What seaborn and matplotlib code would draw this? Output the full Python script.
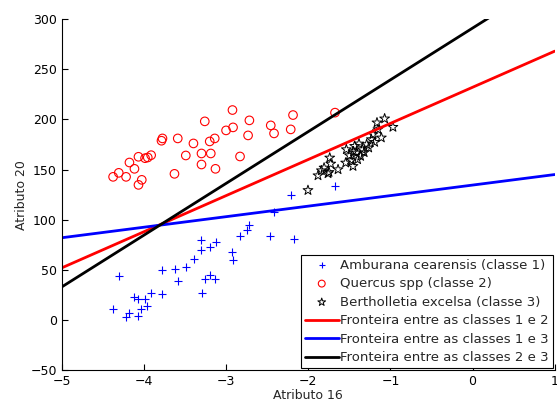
import numpy as np
import pandas as pd
import matplotlib
matplotlib.use('Agg')
import matplotlib.pyplot as plt
import seaborn as sns

# Amburana cearensis (classe 1)
c1_x = [-2.214, -2.417, -2.461, -2.178, -2.721, -2.741, -2.831, -2.928, -2.920, -3.127,
        -3.192, -3.300, -3.300, -3.394, -3.491, -3.625, -3.775, -4.310, -3.585, -3.196,
        -3.257, -3.135, -3.297, -3.783, -3.917, -4.116, -4.071, -3.982, -3.958, -4.035,
        -4.376, -4.181, -4.218, -4.067, -1.679]
c1_y = [124.7, 107.7, 83.3, 80.7, 94.3, 90.0, 84.0, 67.7, 60.0, 77.7,
        72.3, 79.3, 69.3, 61.3, 52.7, 51.0, 50.0, 43.7, 39.0, 45.3,
        40.7, 40.7, 26.7, 25.7, 26.7, 23.0, 21.0, 20.7, 14.0, 10.7,
        11.0, 6.7, 3.3, 3.7, 134.0]

# Quercus spp (classe 2)
c2_x = [-4.376, -4.307, -4.218, -4.177, -4.116, -4.067, -4.027, -4.067, -3.987, -3.954,
        -3.913, -3.787, -3.775, -3.629, -3.589, -3.491, -3.398, -3.300, -3.300, -3.260,
        -3.200, -3.187, -3.139, -3.130, -3.001, -2.923, -2.916, -2.831, -2.733, -2.717,
        -2.457, -2.417, -2.214, -2.186, -1.675]
c2_y = [142.7, 146.7, 142.7, 157.0, 150.7, 162.7, 139.7, 134.7, 161.3, 162.0,
        164.3, 178.7, 181.0, 145.7, 181.0, 164.0, 176.0, 166.0, 155.0, 198.0,
        178.0, 166.0, 181.0, 150.7, 189.0, 209.3, 192.0, 163.0, 184.0, 199.0,
        194.0, 186.0, 190.0, 204.3, 206.7]

# Bertholletia excelsa (classe 3)
c3_x = [-2.004, -1.882, -1.841, -1.808, -1.748, -1.739, -1.727, -1.638, -1.545, -1.537,
        -1.476, -1.456, -1.436, -1.415, -1.383, -1.363, -1.342, -1.265, -1.233, -1.213,
        -1.192, -1.164, -1.152, -1.111, -1.071, -0.970, -1.400, -1.320, -1.500, -1.290,
        -1.760, -1.450]
c3_y = [129.3, 144.0, 149.0, 151.7, 147.3, 161.7, 155.7, 150.0, 156.7, 170.0,
        159.0, 153.3, 173.3, 166.7, 175.7, 163.3, 170.0, 171.7, 180.0, 185.0,
        177.3, 196.7, 190.0, 181.7, 200.7, 192.3, 160.0, 167.0, 164.0, 175.0,
        146.0, 168.0]

# fronteiras: y = a*x + b
front_labels = ['Fronteira entre as classes 1 e 2',
                'Fronteira entre as classes 1 e 3',
                'Fronteira entre as classes 2 e 3']
front_a = [36.0, 10.5, 51.6]
front_b = [232.0, 134.5, 291.0]
front_colors = ['red', 'blue', 'black']

sns.set_style('white')
plt.rcParams['font.family'] = ['DejaVu Sans']
plt.rcParams['font.size'] = 9

fig, ax = plt.subplots(figsize=(5.57, 4.05), dpi=100)
fig.subplots_adjust(left=0.111, right=0.996, top=0.953, bottom=0.086)

sns.scatterplot(x=c1_x, y=c1_y, marker='+', color='blue', s=36, linewidth=0.8,
                label='Amburana cearensis (classe 1)', ax=ax)
sns.scatterplot(x=c2_x, y=c2_y, marker='o', facecolor='none', edgecolor='red', s=38,
                linewidth=0.8, label='Quercus spp (classe 2)', ax=ax)
sns.scatterplot(x=c3_x, y=c3_y, marker='*', facecolor='none', edgecolor='black', s=55,
                linewidth=0.7, label='Bertholletia excelsa (classe 3)', ax=ax)

xs = np.array([-5.0, 1.0])
for lab, a, b, col in zip(front_labels, front_a, front_b, front_colors):
    df = pd.DataFrame({'x': xs, 'y': a * xs + b})
    sns.lineplot(data=df, x='x', y='y', color=col, linewidth=2, label=lab, ax=ax)

ax.set_xlim(-5, 1)
ax.set_ylim(-50, 300)
ax.set_xticks([-5, -4, -3, -2, -1, 0, 1])
ax.set_yticks([-50, 0, 50, 100, 150, 200, 250, 300])
ax.set_xlabel('Atributo 16', labelpad=1)
ax.set_ylabel('Atributo 20', labelpad=2)
ax.tick_params(direction='in', length=4, width=0.8, colors='black', labelsize=9,
               bottom=True, left=True)
for side in ['top', 'right']:
    ax.spines[side].set_visible(False)
for side in ['left', 'bottom']:
    ax.spines[side].set_color('black')
    ax.spines[side].set_linewidth(0.8)

leg = ax.legend(loc='lower right', fontsize=9.5, frameon=True, fancybox=False,
                edgecolor='black', framealpha=1, handlelength=2.6, handletextpad=0.1,
                borderaxespad=0.15, labelspacing=0.42, borderpad=0.3, markerscale=0.8)
leg.get_frame().set_linewidth(0.8)

plt.savefig('out.png', dpi=100)
